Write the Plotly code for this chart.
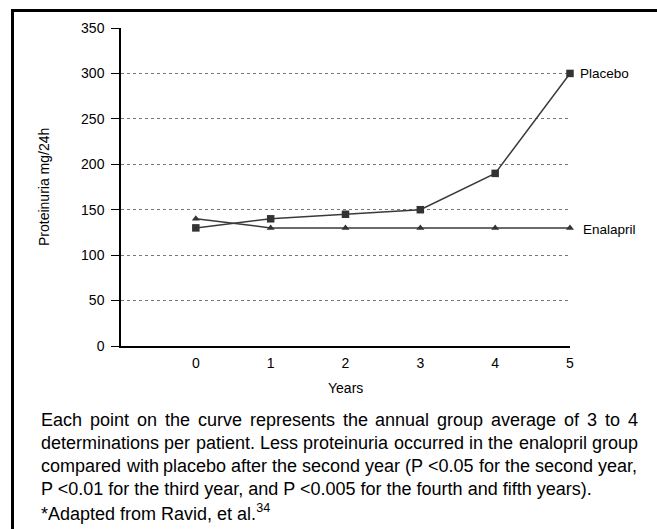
import plotly.graph_objects as go

years = [0, 1, 2, 3, 4, 5]
placebo = [130, 140, 145, 150, 190, 300]
enalapril = [140, 130, 130, 130, 130, 130]
y_ticks = [0, 50, 100, 150, 200, 250, 300, 350]
x_ticks = [0, 1, 2, 3, 4, 5]

caption_lines = [
    ("Each point on the curve represents the annual group average of 3 to 4", True),
    ("determinations per patient.  Less proteinuria occurred in the enalopril group", True),
    ("compared with placebo after the second year (P <0.05 for the second year,", True),
    ("P <0.01 for the third year, and P <0.005 for the fourth and fifth years).", False),
    ("*Adapted from Ravid, et al.<sup>34</sup>", False),
]

W, H = 657, 529
FONT = "Liberation Sans, Arial, sans-serif"


def px(x):
    return x / W


def py(y):
    return 1 - y / H


# Arial / Liberation Sans advance widths (per 1000 em)
AW = {' ': 278, 'a': 556, 'b': 556, 'c': 500, 'd': 556, 'e': 556, 'f': 278, 'g': 556,
      'h': 556, 'i': 222, 'j': 222, 'k': 500, 'l': 222, 'm': 833, 'n': 556, 'o': 556,
      'p': 556, 'q': 556, 'r': 333, 's': 500, 't': 278, 'u': 556, 'v': 500, 'w': 722,
      'x': 500, 'y': 500, 'z': 500, '.': 278, ',': 278, '(': 333, ')': 333, '<': 584,
      '*': 389, 'P': 667, 'E': 667, 'L': 556, 'A': 667, 'R': 722}


def tw(s, size):
    return sum(AW.get(c, 556) for c in s) / 1000 * size


fig = go.Figure()
fig.add_trace(go.Scatter(
    x=years, y=placebo, mode="lines+markers", name="Placebo",
    line=dict(color="#3a3a3a", width=1.5),
    marker=dict(symbol="square", size=7.5, color="#333333"),
    cliponaxis=False, showlegend=False))
fig.add_trace(go.Scatter(
    x=years, y=enalapril, mode="lines+markers", name="Enalapril",
    line=dict(color="#3a3a3a", width=1.5),
    marker=dict(symbol="triangle-up", size=7, color="#333333"),
    cliponaxis=False, showlegend=False))

annotations = []
annotations.append(dict(x=5, y=placebo[-1], xref="x", yref="y", text="Placebo",
                        showarrow=False, xanchor="left", yanchor="middle", xshift=8,
                        font=dict(family=FONT, size=13.5, color="black")))
annotations.append(dict(x=5, y=enalapril[-1], xref="x", yref="y", text="Enalapril",
                        showarrow=False, xanchor="left", yanchor="middle", xshift=11, yshift=-2,
                        font=dict(family=FONT, size=13.5, color="black")))
annotations.append(dict(x=px(44), y=py(187), xref="paper", yref="paper",
                        text="Proteinuria mg/24h", textangle=-90, showarrow=False,
                        xanchor="center", yanchor="middle",
                        font=dict(family=FONT, size=14, color="black")))
annotations.append(dict(x=px(345), y=py(388), xref="paper", yref="paper",
                        text="Years", showarrow=False, xanchor="center", yanchor="middle",
                        font=dict(family=FONT, size=14, color="black")))

CS = 18
left, right = 40, 637
y0 = 420
for i, (line, just) in enumerate(caption_lines):
    yy = py(y0 + i * 23)
    if just:
        words = line.split()
        widths = [tw(w, CS) for w in words]
        gap = (right - left - sum(widths)) / (len(words) - 1)
        x = left
        for w, wd in zip(words, widths):
            annotations.append(dict(x=px(x), y=yy, xref="paper", yref="paper", text=w,
                                    showarrow=False, xanchor="left", yanchor="middle",
                                    borderpad=0,
                                    font=dict(family=FONT, size=CS, color="black")))
            x += wd + gap
    else:
        annotations.append(dict(x=px(left), y=yy, xref="paper", yref="paper", text=line,
                                showarrow=False, xanchor="left", yanchor="middle",
                                borderpad=0,
                                font=dict(family=FONT, size=CS, color="black")))

fig.update_layout(
    width=W, height=H,
    margin=dict(l=0, r=0, t=0, b=0, autoexpand=False),
    paper_bgcolor="white", plot_bgcolor="white",
    annotations=annotations,
    shapes=[dict(type="rect", xref="paper", yref="paper",
                 x0=px(12.5), x1=px(720), y0=py(10.5), y1=py(600),
                 line=dict(color="black", width=3))],
    xaxis=dict(domain=[px(121), px(570)], range=[-1, 5], tickvals=x_ticks,
               showgrid=False, zeroline=False, showline=True, linecolor="black",
               linewidth=1.5, ticks="", ticklabelstandoff=3, automargin=False,
               tickfont=dict(family=FONT, size=14, color="black")),
    yaxis=dict(domain=[py(346), py(28)], range=[0, 350], tickvals=y_ticks,
               showgrid=True, gridcolor="#777777", griddash="dot", gridwidth=1,
               zeroline=False, showline=True, linecolor="black", linewidth=1.5,
               ticks="outside", ticklen=8, tickcolor="black", tickwidth=1,
               ticklabelstandoff=4, automargin=False,
               tickfont=dict(family=FONT, size=14, color="black")),
)

fig.write_html("out.html", config={"displayModeBar": False},
               post_script="document.body.style.margin='0px';document.body.style.overflow='hidden';")
